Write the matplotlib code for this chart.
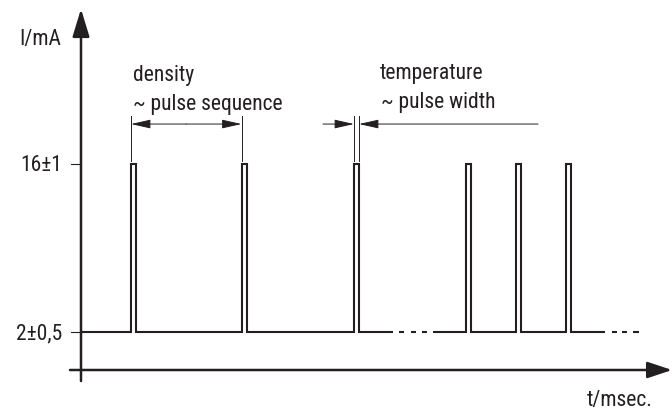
import matplotlib
matplotlib.use("Agg")
import matplotlib.pyplot as plt
from matplotlib.patches import FancyArrowPatch
from matplotlib import font_manager

# ---- data ----
low_level = 2
high_level = 16
level_labels = ["2±0,5", "16±1"]
pulse_starts = [50, 160.5, 273, 385, 435, 485]
pulse_width = 5
segments = [(0, 312, [0, 1, 2]), (352, 524, [3, 4, 5])]
gap_dashes = [[(318, 323), (330, 335), (341, 346)],
              [(531, 536), (541, 546), (552, 558)]]
y_label = "I/mA"
x_label = "t/msec."
density_text = ["density", "~ pulse sequence"]
temperature_text = ["temperature", "~ pulse width"]

# ---- style ----
names = {f.name for f in font_manager.fontManager.ttflist}
fam = [f for f in ["Roboto Condensed", "Liberation Sans Narrow", "Open Sans Condensed"] if f in names]
fam = fam + ["DejaVu Sans"]
plt.rcParams['font.family'] = fam
INK = "#231f20"
FS = 15.5

fig = plt.figure(figsize=(6.72, 4.10), dpi=100)
ax = fig.add_axes([0, 0, 1, 1])
ax.set_xlim(-81, 591)
ax.set_ylim(-53 / 12, 357 / 12)
ax.axis("off")

# signal
for start, end, idx in segments:
    xs, ys = [start], [low_level]
    for i in idx:
        p = pulse_starts[i]
        xs += [p, p, p + pulse_width, p + pulse_width]
        ys += [low_level, high_level, high_level, low_level]
    xs.append(end)
    ys.append(low_level)
    ax.plot(xs, ys, color=INK, lw=1.5, solid_joinstyle="miter", solid_capstyle="butt")
for dashes in gap_dashes:
    for a, b in dashes:
        ax.plot([a, b], [low_level, low_level], color=INK, lw=1.5, solid_capstyle="butt")

# axes with arrows
ax.add_patch(FancyArrowPatch((-11, -1.167), (591, -1.167), arrowstyle="-|>,head_length=0.75,head_width=0.25",
                             mutation_scale=20, color=INK, lw=1.8, shrinkA=0, shrinkB=0))
ax.add_patch(FancyArrowPatch((0, -2.083), (0, 28.92), arrowstyle="-|>,head_length=0.85,head_width=0.26",
                             mutation_scale=20, color=INK, lw=1.8, shrinkA=0, shrinkB=0))

# ticks and labels
for lev, lab in zip([low_level, high_level], level_labels):
    ax.plot([-10, 0], [lev, lev], color=INK, lw=0.8)
    ax.text(-19, lev - 0.5, lab, ha="right", va="baseline", fontsize=FS, color=INK)
ax.text(-20, 26.0, y_label, ha="right", va="baseline", fontsize=FS, color=INK)
ax.text(506, -4.1, x_label, ha="left", va="baseline", fontsize=FS, color=INK)

# density annotation
p1, p2, p3 = pulse_starts[0], pulse_starts[1], pulse_starts[2]
ann_y = 19.33
for x in (p1, p2):
    ax.plot([x, x], [16.25, 20.0], color=INK, lw=0.7)
ax.add_patch(FancyArrowPatch((p1 + (p2 - p1) / 2, ann_y), (p1, ann_y), arrowstyle="-|>,head_length=0.8,head_width=0.18",
                             mutation_scale=15, color=INK, lw=0.7, shrinkA=0, shrinkB=0))
ax.add_patch(FancyArrowPatch((p1 + (p2 - p1) / 2, ann_y), (p2, ann_y), arrowstyle="-|>,head_length=0.8,head_width=0.18",
                             mutation_scale=15, color=INK, lw=0.7, shrinkA=0, shrinkB=0))
ax.text(p1 + 2, 23.0, density_text[0], ha="left", va="baseline", fontsize=FS, color=INK)
ax.text(p1 + 2, 20.58, density_text[1], ha="left", va="baseline", fontsize=FS, color=INK)

# temperature annotation
for x in (p3, p3 + pulse_width):
    ax.plot([x, x], [16.25, 20.0], color=INK, lw=0.7)
ax.add_patch(FancyArrowPatch((242, ann_y), (p3, ann_y), arrowstyle="-|>,head_length=0.8,head_width=0.18",
                             mutation_scale=15, color=INK, lw=0.7, shrinkA=0, shrinkB=0))
ax.add_patch(FancyArrowPatch((457, ann_y), (p3 + pulse_width, ann_y), arrowstyle="-|>,head_length=0.8,head_width=0.18",
                             mutation_scale=15, color=INK, lw=0.7, shrinkA=0, shrinkB=0))
ax.text(299, 23.17, temperature_text[0], ha="left", va="baseline", fontsize=FS, color=INK)
ax.text(300, 20.75, temperature_text[1], ha="left", va="baseline", fontsize=FS, color=INK)

fig.savefig("out.png", dpi=100)
